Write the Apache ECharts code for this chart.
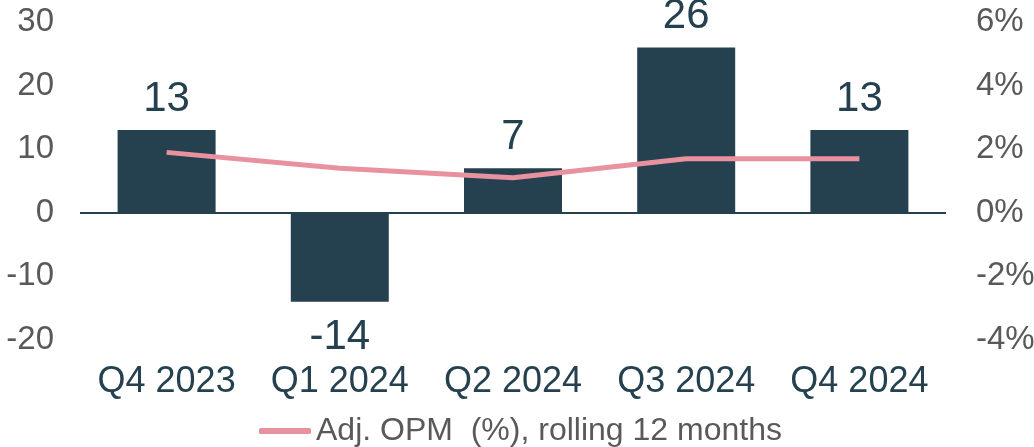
<!DOCTYPE html>
<html>
<head>
<meta charset="utf-8">
<script src="https://cdn.jsdelivr.net/npm/echarts@6/dist/echarts.min.js"></script>
<style>
  html, body { margin: 0; padding: 0; background: #fff; }
  #chart { width: 1034px; height: 447px; }
</style>
</head>
<body>
<div id="chart"></div>
<script>
// quarters on the x axis
const quarters = ['Q4 2023', 'Q1 2024', 'Q2 2024', 'Q3 2024', 'Q4 2024']
// bar values (left axis)
const barValues = [13, -14, 7, 26, 13]
// Adj. OPM (%), rolling 12 months (right axis)
const opmValues = [1.9, 1.4, 1.1, 1.7, 1.7]
const lineName = 'Adj. OPM  (%), rolling 12 months'

const dark = '#25414f'
const pink = '#e8919f'
const grey = '#595959'

// negative bars get their label underneath
const barData = barValues.map(v => {
  return v < 0 ? { value: v, label: { position: 'bottom', distance: 15 } } : v
})

const chart = echarts.init(document.getElementById('chart'))
const option = {
  animation: false,
  textStyle: { fontFamily: '"Liberation Sans", Arial, sans-serif' },
  grid: { left: 80, right: 88, top: 22, bottom: 107, outerBoundsMode: 'none', containLabel: false },
  legend: {
    data: [{ name: lineName, icon: 'roundRect' }],
    left: 254,
    top: 410,
    itemWidth: 52,
    itemHeight: 6,
    itemGap: 5,
    textStyle: { fontSize: 32, color: grey, fontFamily: '"Liberation Sans", Arial, sans-serif' }
  },
  xAxis: {
    type: 'category',
    data: quarters,
    axisLine: { show: false, onZero: false },
    axisTick: { show: false },
    axisLabel: { fontSize: 36, color: dark, margin: 24, interval: 0, hideOverlap: false }
  },
  yAxis: [
    {
      type: 'value',
      min: -20, max: 30, interval: 10,
      axisLine: { show: false },
      axisTick: { show: false },
      splitLine: { show: false },
      axisLabel: { fontSize: 33, color: grey, margin: 26 }
    },
    {
      type: 'value',
      min: -4, max: 6, interval: 2,
      axisLine: { show: false },
      axisTick: { show: false },
      splitLine: { show: false },
      axisLabel: { fontSize: 33, color: grey, margin: 30, formatter: '{value}%' }
    }
  ],
  series: [
    {
      name: 'bars',
      type: 'bar',
      data: barData,
      barWidth: 98,
      itemStyle: { color: dark },
      label: {
        show: true,
        position: 'top',
        distance: 10,
        fontSize: 42,
        color: dark
      },
      markLine: {
        silent: true,
        symbol: 'none',
        label: { show: false },
        lineStyle: { color: dark, width: 2, type: 'solid' },
        data: [{ yAxis: 0 }]
      }
    },
    {
      name: lineName,
      type: 'line',
      yAxisIndex: 1,
      data: opmValues,
      symbol: 'none',
      lineStyle: { color: pink, width: 5 },
      itemStyle: { color: pink },
      z: 5
    }
  ]
}
chart.setOption(option)
</script>
</body>
</html>
